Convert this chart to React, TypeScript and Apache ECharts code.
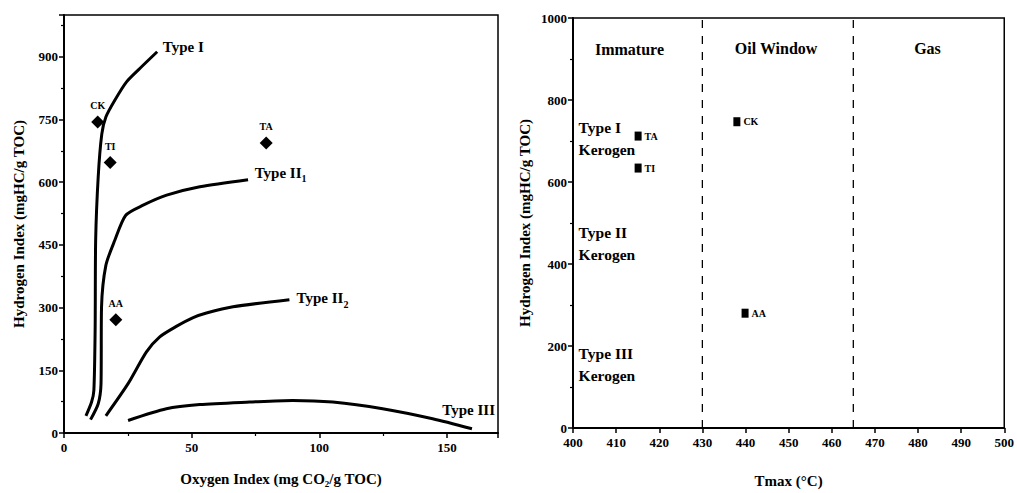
import React, { useEffect, useRef } from "react";
import * as echarts from "echarts";

// ---------- Left panel (HI vs OI, pseudo van Krevelen) ----------
const typeI: [number, number][] = [
  [8.6, 41], [10.8, 74], [11.7, 102], [12.2, 250], [12.4, 461], [13.4, 613],
  [14.8, 715], [16.4, 756], [19.9, 796], [24.5, 840], [29.7, 872], [36.5, 912],
];
const typeII1: [number, number][] = [
  [10.4, 32], [13.4, 70], [14.5, 118], [14.7, 301], [16.4, 401], [19.9, 461],
  [24.2, 521], [31.0, 545], [40.2, 569], [53.2, 589], [72.1, 606],
];
const typeII2: [number, number][] = [
  [16.4, 41], [25.1, 118], [32.3, 194], [37.5, 230], [44.0, 255], [50.6, 276],
  [55.8, 287], [66.2, 302], [88.3, 319],
];
const typeIII: [number, number][] = [
  [25.1, 30], [40.1, 58], [53.2, 68], [72.7, 74], [89.6, 78], [105.3, 74],
  [124.8, 58], [144.4, 34], [159.8, 10],
];
const curveLabelPos: [number, number][] = [[38.7, 923], [74.7, 623], [91.1, 322], [148.2, 54]];
const curveLabelText = ["Type I", "Type II{s|1}", "Type II{s|2}", "Type III"];

const samples = ["CK", "TI", "TA", "AA"];
const oiValues = [13.2, 18.1, 79.2, 20.3];
const hiLeft = [744, 647, 694, 271];

const leftXTicks = { min: 0, max: 170, interval: 50 };
const leftYTicks = { min: 0, max: 1000, interval: 150 };

// ---------- Right panel (HI vs Tmax) ----------
const tmaxValues = [438.0, 415.1, 415.1, 439.9];
const hiRight = [747, 634, 712, 280];
const windowBounds = [430, 465];
const zoneNames = ["Immature", "Oil Window", "Gas"];
const zonePos: [number, number][] = [[413.1, 923], [447.1, 925], [482.2, 925]];
const kerogenNames = ["Type I\nKerogen", "Type II\nKerogen", "Type III\nKerogen"];
const kerogenPos: [number, number][] = [[401.3, 706], [401.3, 450], [401.3, 155]];

const rightXTicks = { min: 400, max: 500, interval: 10 };
const rightYTicks = { min: 0, max: 1000, interval: 200 };

const FONT = "Liberation Serif";

export default function App() {
  const ref = useRef<HTMLDivElement>(null);
  useEffect(() => {
    if (!ref.current) return;
    const chart = echarts.init(ref.current, undefined, { renderer: "svg" });
    const axisLine = { show: true, onZero: false, lineStyle: { color: "#000", width: 2 } };
    const axisLabel = {
      color: "#000", fontFamily: FONT, fontWeight: "bold", fontSize: 13,
      formatter: (v: number) => String(v),
    };
    const nameStyle = { color: "#000", fontFamily: FONT, fontWeight: "bold", fontSize: 15 };
    const tick = { show: true, inside: false, length: 5, lineStyle: { color: "#000", width: 1.5 } };
    const minor = { show: true, splitNumber: 2, length: 3, lineStyle: { color: "#000", width: 1.2 } };
    const curveStyle = { color: "#000", width: 3 };
    const solid = { color: "#000", opacity: 1 };
    const curve = (d: [number, number][]) => ({
      type: "line", xAxisIndex: 0, yAxisIndex: 0, data: d, symbol: "none",
      smooth: 0.25, lineStyle: curveStyle, silent: true,
    });
    const dashed = (x: number) => ({
      type: "line", xAxisIndex: 1, yAxisIndex: 1, data: [[x, 0], [x, 1000]], symbol: "none",
      lineStyle: { color: "#000", width: 1.3, type: [8, 8] }, silent: true,
    });
    chart.setOption({
      animation: false,
      backgroundColor: "#fff",
      grid: [
        { left: 64, top: 15, width: 434, height: 418, show: true, borderColor: "#000", borderWidth: 1.5, backgroundColor: "transparent" },
        { left: 573, top: 18, width: 436, height: 415, show: true, borderColor: "#000", borderWidth: 1.5, backgroundColor: "transparent" },
      ],
      xAxis: [
        {
          type: "value", gridIndex: 0, ...leftXTicks, axisLine, axisTick: tick, minorTick: minor,
          splitLine: { show: false }, axisLabel: { ...axisLabel, showMaxLabel: false, margin: 8 },
          name: "Oxygen Index (mg CO\u2082/g TOC)", nameLocation: "middle", nameGap: 38, nameTextStyle: nameStyle,
        },
        {
          type: "value", gridIndex: 1, ...rightXTicks, axisLine, axisTick: tick,
          splitLine: { show: false }, axisLabel: { ...axisLabel, margin: 8 },
          name: "Tmax (\u00B0C)", nameLocation: "middle", nameGap: 45, nameTextStyle: nameStyle,
        },
      ],
      yAxis: [
        {
          type: "value", gridIndex: 0, ...leftYTicks, axisLine, axisTick: tick, minorTick: minor,
          splitLine: { show: false }, axisLabel: { ...axisLabel, showMaxLabel: false, margin: 6 },
          name: "Hydrogen Index (mgHC/g TOC)", nameLocation: "middle", nameGap: 38, nameTextStyle: nameStyle,
        },
        {
          type: "value", gridIndex: 1, ...rightYTicks, axisLine, axisTick: tick, minorTick: minor,
          splitLine: { show: false }, axisLabel: { ...axisLabel, margin: 6 },
          name: "Hydrogen Index (mgHC/g TOC)", nameLocation: "middle", nameGap: 41, nameTextStyle: nameStyle,
        },
      ],
      series: [
        curve(typeI), curve(typeII1), curve(typeII2), curve(typeIII),
        {
          type: "scatter", xAxisIndex: 0, yAxisIndex: 0, symbolSize: 0, silent: true, itemStyle: solid,
          data: curveLabelPos.map((p, i) => ({ value: p, label: { formatter: curveLabelText[i] } })),
          label: {
            show: true, position: "right", distance: 0, color: "#000", fontFamily: FONT,
            fontWeight: "bold", fontSize: 15,
            rich: { s: { fontFamily: FONT, fontWeight: "bold", fontSize: 10, padding: [12, 0, 0, 0], color: "#000" } },
          },
        },
        {
          type: "scatter", xAxisIndex: 0, yAxisIndex: 0, symbol: "diamond", symbolSize: 13,
          itemStyle: solid,
          data: samples.map((s, i) => ({ name: s, value: [oiValues[i], hiLeft[i]] })),
          label: {
            show: true, position: "top", distance: 5, formatter: "{b}", color: "#000",
            fontFamily: FONT, fontWeight: "bold", fontSize: 10,
          },
        },
        dashed(windowBounds[0]), dashed(windowBounds[1]),
        {
          type: "scatter", xAxisIndex: 1, yAxisIndex: 1, symbol: "rect", symbolSize: [7, 9],
          itemStyle: solid,
          data: samples.map((s, i) => ({ name: s, value: [tmaxValues[i], hiRight[i]] })),
          label: {
            show: true, position: "right", distance: 3, formatter: "{b}", color: "#000",
            fontFamily: FONT, fontWeight: "bold", fontSize: 10,
          },
        },
        {
          type: "scatter", xAxisIndex: 1, yAxisIndex: 1, symbolSize: 0, silent: true, itemStyle: solid,
          data: zoneNames.map((s, i) => ({ name: s, value: zonePos[i] })),
          label: {
            show: true, position: "inside", formatter: "{b}", color: "#000",
            fontFamily: FONT, fontWeight: "bold", fontSize: 16,
          },
        },
        {
          type: "scatter", xAxisIndex: 1, yAxisIndex: 1, symbolSize: 0, silent: true, itemStyle: solid,
          data: kerogenNames.map((s, i) => ({ name: s, value: kerogenPos[i] })),
          label: {
            show: true, position: "right", distance: 0, formatter: "{b}", color: "#000",
            fontFamily: FONT, fontWeight: "bold", fontSize: 15.5, lineHeight: 22, align: "left",
          },
        },
      ],
    });
    return () => chart.dispose();
  }, []);
  return (
    <div
      ref={ref}
      style={{ position: "fixed", left: 0, top: 0, width: 1017, height: 493, background: "#fff" }}
    />
  );
}
